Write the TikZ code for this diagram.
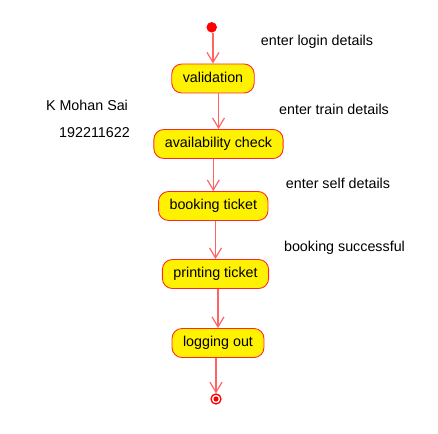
\documentclass[tikz,border=0pt]{standalone}
\usepackage{fontspec}
\setmainfont{Liberation Sans}
\usetikzlibrary{arrows.meta}
\definecolor{linered}{RGB}{255,100,100}
\definecolor{boxred}{RGB}{255,40,40}
\tikzset{
	activity/.style={draw=boxred, line width=0.9pt, fill=yellow, rounded corners=10pt, minimum height=29pt, inner xsep=11pt, text height=10pt, text depth=3pt, font=\fontsize{14.3}{16}\selectfont},
	flow/.style={draw=linered, line width=1.2pt, -{Straight Barb[length=10pt,width=12pt]}},
	note/.style={anchor=base, font=\fontsize{14.3}{16}\selectfont}
}
\begin{document}
\begin{tikzpicture}[x=1pt,y=-1pt]
	\useasboundingbox (0,0) rectangle (438,433);

	\node[circle, fill=red, inner sep=0pt, minimum size=10.5pt] (start) at (211.7,27.3) {};
	\node[activity] (valid) at (213,78.5) {validation};
	\node[activity] (avail) at (218.5,144) {availability check};
	\node[activity] (book) at (213.3,206) {booking ticket};
	\node[activity] (print) at (215.5,274) {printing ticket};
	\node[activity] (logout) at (218,343) {logging out};
	\node[circle, draw=red, line width=1.3pt, inner sep=0pt, minimum size=10pt] (end) at (216,399) {};
	\fill[red] (end.center) circle (2.6pt);

	\node[note] (login) at (317,45.7) {enter login details};
	\node[note] (train) at (334,114) {enter train details};
	\node[note] (self) at (338,188) {enter self details};
	\node[note] (success) at (344.5,251.7) {booking successful};
	\node[note] (name) at (87,110.7) {K Mohan Sai};
	\node[note] (regno) at (94.5,137.7) {192211622};

	\draw[flow] (start.south -| valid) -- (valid);
	\draw[flow] (valid.south -| avail) -- (avail);
	\draw[flow] (avail.south -| book) -- (book);
	\draw[flow] (book.south -| print) -- (print);
	\draw[flow] (print.south -| logout) -- (logout);
	\draw[flow] (logout.south -| end) -- (end);
\end{tikzpicture}
\end{document}
